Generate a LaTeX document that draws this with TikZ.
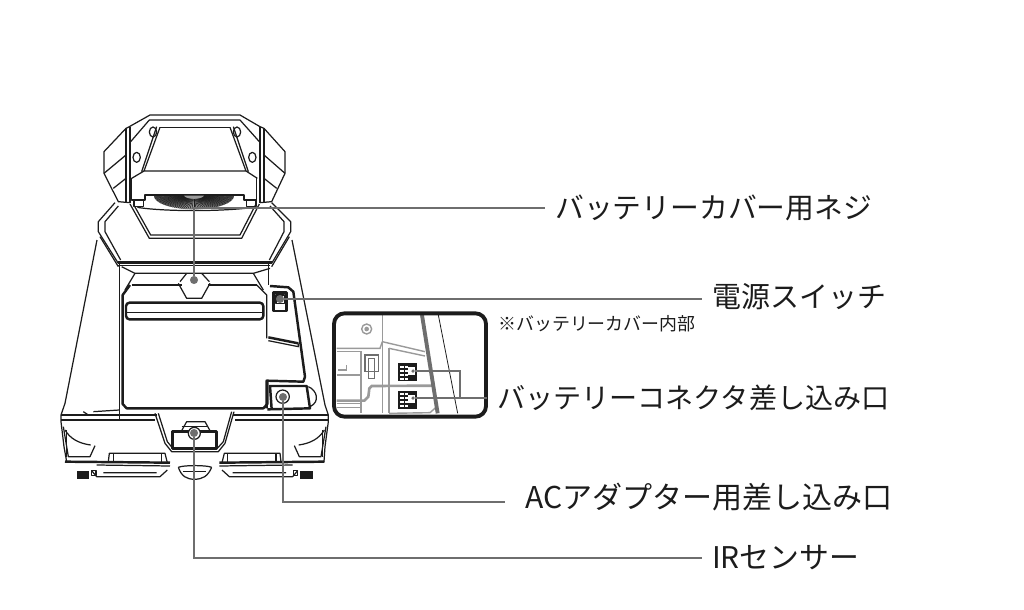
\documentclass[tikz,border=0pt]{standalone}
\usepackage{fontspec}
\setmainfont{Noto Sans CJK JP}
\usetikzlibrary{
arrows.meta,
positioning,
calc
}
\definecolor{LeaderGray}{HTML}{6E6E6E}
\definecolor{InsetGray}{HTML}{9A9A9A}
\definecolor{RobotInk}{HTML}{1C1C1C}
\tikzset{
    ink/.style={line width=0.7pt, RobotInk, line join=round},
    heavyink/.style={line width=1.4pt, RobotInk, line join=round},
    thinink/.style={line width=0.3pt, RobotInk, line join=round},
    leader/.style={line width=1.1pt, LeaderGray},
    leaderdot/.style={circle, fill=LeaderGray, inner sep=0pt, minimum size=4.6pt},
    calloutlabel/.style={text=RobotInk, anchor=west, inner ysep=2pt, inner xsep=5.6pt},
    insetline/.style={line width=0.8pt, InsetGray},
    labelsize/.style={font=\fontsize{#1}{18}\selectfont},
}
\begin{document}
\begin{tikzpicture}[x=0.02cm, y=-0.02cm]
    \useasboundingbox (0,0) rectangle (1024,609);

    \begin{scope}[shift={(50,100)}, scale=1/3]
        \draw[ink] (228,85) -- (162,155) -- (162,220) -- (205,305) -- (240,308);
        \draw[ink] (162,220) -- (228,165) (190,265) -- (228,235);
        \draw[ink] (642,85) -- (705,155) -- (705,220) -- (665,305) -- (630,308);
        \draw[ink] (705,220) -- (642,165) (680,265) -- (642,235);
        \draw[ink] (228,85) -- (238,80) -- (300,45) -- (570,45) -- (630,80) -- (642,85);
        \draw[ink] (242,125) -- (298,60) -- (570,60) -- (628,125);
        \draw[ink] (228,85) -- (228,308) (240,80) -- (240,308);
        \draw[ink] (630,80) -- (630,308) (642,85) -- (642,308);
        \draw[ink] (330,82) -- (540,82);
        \draw[ink] (330,82) -- (282,213) -- (588,213) -- (540,82);
        \draw[ink] (320,80) -- (275,215) (550,80) -- (595,215);
        \draw[ink] (245,235) -- (282,213) (588,213) -- (622,235);
        \draw[ink] (245,235) -- (245,300) -- (285,300) -- (285,285) -- (582,285) -- (582,300) -- (620,300) -- (620,235);
        \foreach \hx/\hy in {309/96, 260/172, 561/96, 607/172}
            \draw[ink] (\hx,\hy) ellipse (11 and 15);
        \fill[InsetGray] (312,287) -- (552,287) arc[start angle=0, end angle=-180, x radius=120, y radius=-41] -- cycle;
        \foreach \a in {180,183,...,360}
            \draw[thinink] ({432+30*cos(\a)},{287-10*sin(\a)}) -- ({432+120*cos(\a)},{287-41*sin(\a)});
        \draw[ink] (252,300) rectangle (280,320) (590,300) rectangle (618,320);
        \draw[ink] (262,322) .. controls (340,335) and (520,335) .. (610,322);
        \draw[ink] (240,312) -- (298,415) -- (575,415) -- (628,312);
        \draw[ink] (250,312) -- (302,405) -- (570,405) -- (618,312);
        \draw[ink] (195,308) -- (145,365) -- (145,395) -- (205,490);
        \draw[ink] (205,318) -- (165,365) -- (165,395) -- (212,480);
        \draw[ink] (150,410) -- (205,500);
        \draw[ink] (665,308) -- (722,365) -- (722,395) -- (665,490);
        \draw[ink] (660,318) -- (702,365) -- (702,395) -- (658,480);
        \draw[ink] (718,410) -- (665,500);
        \draw[heavyink] (205,487) -- (665,487);
        \draw[ink] (205,497) -- (660,497);
        \draw[ink] (215,500) -- (255,520) -- (610,520) -- (660,505);
        \draw[ink] (255,520) -- (225,570) (610,520) -- (640,570);
        \draw[ink] (390,545) -- (410,520) (455,520) -- (478,545);
    \end{scope}

    \begin{scope}[shift={(50,280)}, scale=1/3]
        \draw[ink] (141,-120) -- (45,370) -- (33,405) -- (33,425) -- (42,500) -- (50,545) -- (150,545);
        \draw[ink] (726,-120) -- (825,375) -- (835,405) -- (835,425) -- (825,500) -- (822,545) -- (700,545);
        \draw[ink] (208,-50) -- (208,420) (655,-50) -- (655,15);
        \draw[ink] (245,15) -- (395,15) (475,15) -- (620,15);
        \draw[heavyink] (240,15) -- (218,45) -- (218,372) -- (230,385) -- (640,385) -- (652,372) -- (652,305);
        \draw[ink] (620,15) -- (650,45) -- (650,175);
        \draw[ink] (385,10) -- (410,55) -- (455,55) -- (480,10);
        \draw[heavyink, rounded corners=2pt] (228,68) rectangle (640,118);
        \draw[ink] (232,98) -- (637,98);
        \draw[heavyink] (660,18) -- (715,22) -- (730,35) -- (765,290) -- (760,305) -- (650,302) -- (650,385);
        \draw[heavyink] (655,172) -- (745,190);
        \draw[ink] (655,182) -- (745,200) -- (745,190);
        \draw[heavyink] (670,38) rectangle (710,93);
        \draw[ink] (678,45) rectangle (703,70);
        \draw[heavyink] (652,388) -- (780,385) -- (770,318) -- (660,318) -- (665,388);
        \draw[ink] (698,350) circle (20);
        \draw[ink] (775,320) .. controls (800,330) and (812,365) .. (780,380);
        \draw[heavyink] (33,405) -- (322,405) (548,405) -- (835,405);
        \draw[ink] (33,420) -- (315,420) (555,420) -- (835,420);
        \draw[ink] (100,395) -- (115,405) (130,395) -- (208,390);
        \draw[ink] (315,400) -- (345,490) -- (365,515) -- (505,515) -- (525,490) -- (552,395);
        \draw[ink] (325,400) -- (352,485) -- (370,507) -- (500,507) -- (520,485) -- (545,395);
        \draw[heavyink] (368,505) rectangle (500,455);
        \draw[ink] (395,452) -- (410,425) -- (465,425) -- (480,452);
        \draw[ink] (395,440) -- (475,440);
        \draw[ink, fill=white] (433,460) circle (18);
        \foreach \side/\off in {1/0, -1/868} {
            \begin{scope}[shift={(\off,0)}, xscale=\side]
                \draw[ink] (40,440) -- (55,530) -- (120,530) -- (135,497);
                \draw[ink] (45,450) .. controls (60,475) and (85,490) .. (122,495);
                \draw[ink] (50,530) -- (50,450);
                \draw[ink] (175,545) -- (178,520) -- (345,520) -- (352,548);
                \draw[ink] (190,520) -- (190,548) (335,520) -- (335,548);
                \draw[heavyink] (45,545) -- (360,548);
                \draw[ink] (125,572) -- (140,590) -- (330,590) -- (352,570);
                \draw[ink] (160,578) -- (320,578) (140,555) -- (360,558);
                \draw[ink] (125,572) rectangle (138,587);
                \fill[RobotInk] (80,572) rectangle (118,598);
            \end{scope}
        }
        \draw[ink] (385,562) .. controls (400,555) and (470,555) .. (485,562);
        \draw[ink] (385,562) .. controls (395,590) and (410,597) .. (433,598) .. controls (458,597) and (473,590) .. (485,562);
        \draw[ink] (400,575) -- (468,575);
    \end{scope}

    \begin{scope}[shift={(325,300)}, scale=1/3]
        \draw[insetline] (35,145) -- (165,145) -- (172,125);
        \draw[insetline] (172,45) -- (172,340) (192,145) -- (192,340);
        \draw[insetline] (172,125) -- (300,155) (192,145) -- (300,168);
        \draw[insetline] (35,155) -- (108,155) -- (108,340);
        \draw[insetline] (35,225) -- (108,225);
        \draw[insetline] (40,210) -- (65,210) -- (65,195);
        \draw[insetline] (35,310) -- (108,310) (35,322) -- (108,322);
        \draw[line width=1.5pt, InsetGray] (35,302) -- (118,302) -- (130,290) -- (133,265) -- (140,258) -- (325,257);
        \draw[line width=0.8pt, InsetGray] (192,340) -- (315,338) -- (333,322);
        \draw[line width=2.2pt, LeaderGray] (291,45) -- (338,340);
        \draw[line width=0.45pt, RobotInk] (340,45) -- (398,340);
        \draw[line width=0.7pt, LeaderGray] (120,165) rectangle (160,215);
        \draw[line width=0.7pt, LeaderGray] (130,175) rectangle (148,235);
        \draw[insetline] (125,87) circle (15);
        \fill[InsetGray] (125,87) circle (7);
        \foreach \cy in {190,272} {
            \fill[RobotInk] (220,\cy) rectangle (276,{\cy+54});
            \foreach \dy in {8,20,32,44} {
                \fill[white] (226,{\cy+\dy}) rectangle (236,{\cy+\dy+6});
                \fill[white] (240,{\cy+\dy}) rectangle (250,{\cy+\dy+6});
            }
            \fill[white] (250,{\cy+12}) rectangle (270,{\cy+36});
        }
        \draw[line width=2.2pt, RobotInk, rounded corners=6pt] (27,40) rectangle (483,350);
    \end{scope}

    \node[leaderdot] (screwDot) at (194,280) {};
    \node[leaderdot] (switchDot) at (280,299) {};
    \node[leaderdot] (adapterDot) at (283,397) {};
    \node[leaderdot] (irDot) at (194,433) {};
    \node[leaderdot, minimum size=2pt] (portUpperDot) at (413,371) {};
    \node[leaderdot, minimum size=2pt] (portLowerDot) at (413,398) {};
    \coordinate (portBend) at (460,398);

    \node[calloutlabel, labelsize=16.4] (screwLabel) at (545,208) {バッテリーカバー用ネジ};
    \node[calloutlabel, labelsize=16.5] (switchLabel) at (702,297) {電源スイッチ};
    \node[calloutlabel, labelsize=16] (portLabel) at (487,398) {バッテリーコネクタ差し込み口};
    \node[calloutlabel, labelsize=17.1, inner xsep=11.3pt] (adapterLabel) at (505,497) {ACアダプター用差し込み口};
    \node[calloutlabel, labelsize=17] (irLabel) at (702,558) {IRセンサー};
    \node[labelsize=10.2, text=RobotInk, anchor=west, inner sep=0pt] (insideNote) at (498,324) {※バッテリーカバー内部};

    \draw[leader] (screwDot) |- (screwLabel.west);
    \draw[leader] (switchDot) -- (switchDot -| switchLabel.west);
    \draw[leader] (portUpperDot) -| (portBend);
    \draw[leader] (portLowerDot) -- (portLabel.west);
    \draw[leader] (adapterDot) |- ([yshift=-2.8pt]adapterLabel.west);
    \draw[leader] (irDot) |- (irLabel.west);
\end{tikzpicture}
\end{document}
